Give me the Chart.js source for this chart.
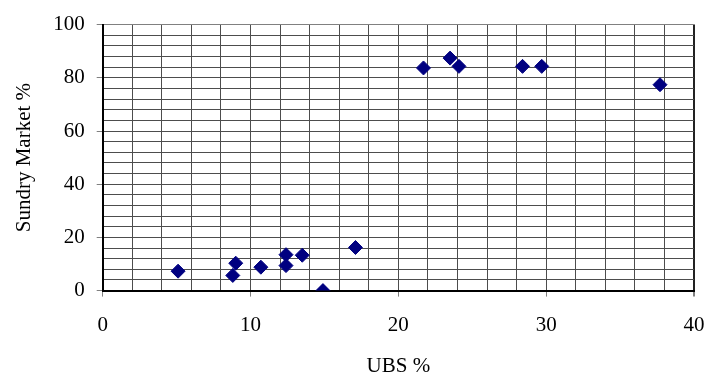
<!DOCTYPE html>
<html>
<head>
<meta charset="utf-8">
<script src="https://cdn.jsdelivr.net/npm/chart.js@4/dist/chart.umd.min.js"></script>
<style>
  html, body { margin: 0; padding: 0; background: #fff; }
  #wrap { width: 706px; height: 373px; }
</style>
</head>
<body>
<div id="wrap"><canvas id="chart-scatter"></canvas></div>
<script>
// values
const ubsPct = [5.1, 8.8, 9.0, 10.7, 12.4, 12.4, 13.5, 14.9, 17.1, 21.7, 23.5, 24.1, 28.4, 29.7, 37.7];
const sundryPct = [7.3, 5.7, 10.3, 8.8, 13.5, 9.4, 13.3, 0, 16.2, 83.7, 87.4, 84.3, 84.3, 84.3, 77.4];

const xMin = 0, xMax = 40, xMinor = 2, xMajor = 10;
const yMin = 0, yMax = 100, yMinor = 4, yMajor = 20;

const points = ubsPct.map(function (x, i) {
    return { x: x, y: sundryPct[i] };
});

const serif = "'Liberation Serif', 'Times New Roman', serif";

const config = {
    type: 'scatter',
    data: {
        datasets: [
            {
                data: points,
                pointStyle: 'rectRot',
                pointRadius: 7,
                pointHoverRadius: 7,
                backgroundColor: '#000080',
                borderColor: '#000080',
                borderWidth: 1
            }
        ]
    },
    options: {
        responsive: true,
        maintainAspectRatio: false,
        animation: false,
        layout: { padding: { left: 12, right: 12, top: 19, bottom: -6 } },
        plugins: {
            legend: { display: false },
            tooltip: { enabled: false }
        },
        scales: {
            x: {
                type: 'linear',
                min: xMin,
                max: xMax,
                afterFit: function (scale) {
                    // the last label may hang past the plot, like the original
                    scale.paddingRight = 0;
                },
                border: { color: '#000', width: 2 },
                grid: {
                    color: function (ctx) { return ctx.tick.value === xMax ? '#222' : '#4d4d4d'; },
                    lineWidth: function (ctx) { return ctx.tick.value === xMax ? 2 : 1; },
                    tickLength: 6,
                    tickColor: function (ctx) {
                        return ctx.tick.value % xMajor === 0 ? '#808080' : 'rgba(0,0,0,0)';
                    }
                },
                ticks: {
                    stepSize: xMinor,
                    autoSkip: false,
                    maxRotation: 0,
                    padding: 16,
                    color: '#000',
                    font: { family: serif, size: 21 },
                    callback: function (v) { return v % xMajor === 0 ? v : ''; }
                },
                title: {
                    display: true,
                    text: 'UBS %',
                    color: '#000',
                    font: { family: serif, size: 21 },
                    padding: { top: 0, bottom: 0 }
                }
            },
            y: {
                type: 'linear',
                min: yMin,
                max: yMax,
                border: { color: '#000', width: 2 },
                grid: {
                    color: function (ctx) { return ctx.tick.value === yMax ? '#808080' : '#4d4d4d'; },
                    lineWidth: 1,
                    tickLength: 6,
                    tickColor: function (ctx) {
                        return ctx.tick.value % yMajor === 0 ? '#808080' : 'rgba(0,0,0,0)';
                    }
                },
                ticks: {
                    stepSize: yMinor,
                    autoSkip: false,
                    padding: 12,
                    color: '#000',
                    font: { family: serif, size: 21 },
                    callback: function (v) { return v % yMajor === 0 ? v : ''; }
                },
                title: {
                    display: true,
                    text: 'Sundry Market %',
                    color: '#000',
                    font: { family: serif, size: 21 },
                    padding: { top: 0, bottom: 4 }
                }
            }
        }
    }
};

const chart = new Chart(document.getElementById('chart-scatter'), config);
</script>
</body>
</html>
